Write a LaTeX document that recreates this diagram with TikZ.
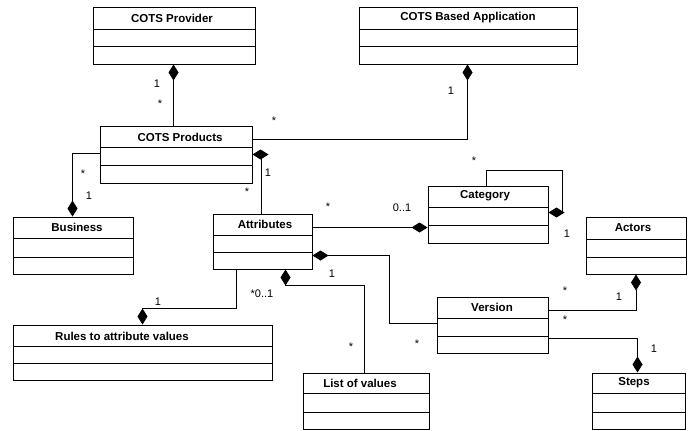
\documentclass[tikz,border=0pt]{standalone}
\usepackage{fontspec}
\setmainfont{Liberation Sans}
\usetikzlibrary{arrows.meta,calc,fit}
\tikzset{
  umlbox/.style={draw, line width=1pt, inner sep=0pt},
  umlline/.style={line width=1pt},
  conn/.style={line width=0.85pt},
  comp/.style={conn, {Diamond[length=16pt,width=10pt]}-},
  title/.style={font=\fontsize{11.5}{13}\selectfont\bfseries, inner sep=0pt},
  mult/.style={font=\fontsize{11}{13}\selectfont, inner sep=0pt}
}
\newcommand\umlbox[9]{%
  \node[umlbox, fit={(#2,#3)(#4,#5)}] (#1) {};
  \draw[umlline] (#2,#6) -- (#4,#6) (#2,#7) -- (#4,#7);
  \node[title] at (#8) {#9};
}
\begin{document}
\begin{tikzpicture}[x=1pt,y=-1pt]
\useasboundingbox (0,0) rectangle (688,431);
\umlbox{prov}{93}{7}{255}{64}{29}{46}{172,18}{COTS Provider}
\umlbox{app}{359}{7}{577}{64}{29}{46}{468,18}{COTS Based Application}
\umlbox{prod}{100}{126}{252}{183}{147}{165}{180,137}{COTS Products}
\umlbox{bus}{13}{217}{133}{274}{238}{257}{77,227}{Business}
\umlbox{attr}{213}{214}{312}{269}{235}{252}{265,224}{Attributes}
\umlbox{cat}{428}{186}{548}{243}{207}{225}{485,196}{Category}
\umlbox{act}{586}{217}{686}{274}{239}{257}{633,228}{Actors}
\umlbox{ver}{437}{297}{548}{353}{318}{336}{492,307}{Version}
\umlbox{rules}{13}{325}{272}{380}{346}{363}{122,336}{Rules to attribute values}
\umlbox{list}{303}{373}{429}{429}{393}{412}{360,383}{List of values}
\umlbox{steps}{592}{373}{685}{429}{393}{412}{634,383}{Steps}

% connectors
\draw[comp] ($(prov.south west)+(81,0)$) -- ($(prod.north west)+(74,0)$);
\draw[comp] ($(app.south west)+(109,0)$) |- ($(prod.north east)+(0,14)$);
\draw[comp] ($(prod.north east)+(0,29)$) -| ($(attr.north west)+(49,0)$);
\draw[comp] ($(bus.north west)+(60,0)$) |- ($(prod.north west)+(0,28)$);
\draw[comp] ($(cat.north west)+(0,42)$) -- ($(attr.north east)+(0,14)$);
\draw[comp] ($(cat.north east)+(0,27)$) -- ++(14,0) |- ($(cat.north west)+(59,-15)$) -- ($(cat.north west)+(59,0)$);
\draw[comp] ($(attr.north east)+(0,42)$) -- ++(77,0) |- ($(ver.north west)+(0,27)$);
\draw[comp] ($(attr.south west)+(73,0)$) -- ++(0,16) -| ($(list.north west)+(62,0)$);
\draw[comp] ($(rules.north west)+(130,0)$) -- ++(0,-16) -| ($(attr.south west)+(24,0)$);
\draw[comp] (act.south) |- ($(ver.north east)+(0,14)$);
\draw[comp] ($(steps.north west)+(46,0)$) |- ($(ver.north east)+(0,42)$);

% multiplicities
\node[mult] (m1) at (157,84) {1};
\node[mult] (m2) at (160,104) {*};
\node[mult] (m3) at (451,91) {1};
\node[mult] (m4) at (274,121) {*};
\node[mult] (m5) at (268,173) {1};
\node[mult] (m6) at (247,192) {*};
\node[mult] (m7) at (83,174) {*};
\node[mult] (m8) at (89,196) {1};
\node[mult] (m9) at (328,207) {*};
\node[mult] (m10) at (402,208) {0..1};
\node[mult] (m11) at (474,161) {*};
\node[mult] (m12) at (567,234) {1};
\node[mult] (m13) at (565,291) {*};
\node[mult] (m14) at (619,297) {1};
\node[mult] (m15) at (565,320) {*};
\node[mult] (m16) at (654,349) {1};
\node[mult] (m17) at (417,344) {*};
\node[mult] (m18) at (332,274) {1};
\node[mult] (m19) at (351,347) {*};
\node[mult] (m20) at (262,294) {*0..1};
\node[mult] (m21) at (158,302) {1};
\end{tikzpicture}
\end{document}
